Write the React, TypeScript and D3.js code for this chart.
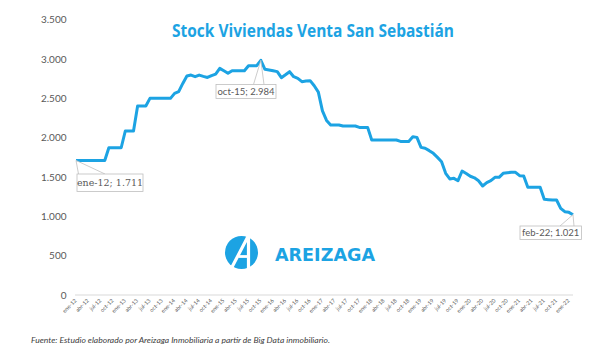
import React from "react";
import * as d3 from "d3";

const monthNames = ["ene", "feb", "mar", "abr", "may", "jun", "jul", "ago", "sep", "oct", "nov", "dic"];
const startYear = 2012;

// Stock de viviendas en venta, mensual ene-12 .. feb-22
const stockValues = [
  1711, 1711, 1711, 1711, 1711, 1711, 1711, 1711, 1872, 1872, 1872, 1872,
  2085, 2085, 2085, 2402, 2402, 2402, 2500, 2500, 2500, 2500, 2500, 2500,
  2563, 2585, 2690, 2784, 2796, 2775, 2796, 2780, 2766, 2790, 2809, 2881,
  2850, 2818, 2852, 2852, 2852, 2852, 2915, 2915, 2915, 2984, 2869, 2860,
  2850, 2840, 2763, 2800, 2839, 2775, 2754, 2712, 2720, 2725, 2660, 2580,
  2340, 2220, 2161, 2161, 2161, 2148, 2148, 2148, 2148, 2131, 2131, 2131,
  1970, 1970, 1970, 1970, 1970, 1970, 1970, 1953, 1953, 1953, 2012, 2004,
  1877, 1866, 1835, 1801, 1750, 1695, 1547, 1475, 1483, 1453, 1576, 1545,
  1510, 1490, 1453, 1386, 1428, 1453, 1496, 1496, 1547, 1555, 1560, 1560,
  1517, 1513, 1369, 1369, 1369, 1369, 1216, 1212, 1208, 1208, 1102, 1059,
  1051, 1021,
];

const yTicks = [0, 500, 1000, 1500, 2000, 2500, 3000, 3500];
const annotatedIndices = [0, 45, 121];

const titleText = "Stock Viviendas Venta San Sebastián";
const sourceText = "Fuente: Estudio elaborado por Areizaga Inmobiliaria a partir de Big Data inmobiliario.";
const logoText = "AREIZAGA";

const BLUE = "#1ca3e3";
const GRAY_TEXT = "#595959";

function monthLabel(i: number) {
  const y = startYear + Math.floor(i / 12);
  return `${monthNames[i % 12]}-${String(y).slice(2)}`;
}

const fmt = (v: number) => {
  const s = String(Math.round(v));
  return s.replace(/\B(?=(\d{3})+(?!\d))/g, ".");
};

export default function App() {
  const W = 616;
  const H = 354;
  const x = d3.scaleLinear().domain([0, stockValues.length - 1]).range([76, 573]);
  const y = d3.scaleLinear().domain([0, 3500]).range([295, 19.7]);

  const line = d3
    .line<number>()
    .x((_, i) => x(i))
    .y((d) => y(d))
    .curve(d3.curveLinear);

  const xTickIdx = d3.range(0, stockValues.length, 3);

  // annotation box layouts (offsets relative to point)
  const boxes: Record<number, { bx: number; by: number; bw: number; bh: number; w1: number; w2: number }> = {
    0: { bx: 77, by: 174, bw: 66, bh: 17.5, w1: 78.5, w2: 105 },
    45: { bx: 216, by: 84.5, bw: 60, bh: 14, w1: 253.5, w2: 264 },
    121: { bx: 520, by: 226, bw: 61.5, bh: 13.5, w1: 560, w2: 574 },
  };

  return (
    <svg
      width={W}
      height={H}
      style={{ position: "absolute", left: 0, top: 0, background: "#fff" }}
      fontFamily="Lato, 'Open Sans', sans-serif"
    >
      <rect x={0} y={0} width={W} height={H} fill="#fff" />
      <text
        x={313}
        y={37}
        textAnchor="middle"
        fill={BLUE}
        fontSize={17}
        fontWeight="bold"
        fontFamily="'Open Sans', Lato, sans-serif"
        textLength={282}
        lengthAdjust="spacingAndGlyphs"
      >
        {titleText}
      </text>

      {/* y axis labels */}
      {yTicks.map((t) => (
        <text key={t} x={66.5} y={y(t)} dy="0.35em" textAnchor="end" fontSize={10} fill={GRAY_TEXT}>
          {fmt(t)}
        </text>
      ))}

      {/* x axis */}
      <line x1={75} x2={573} y1={y(0)} y2={y(0)} stroke="#d9d9d9" strokeWidth={1} />
      {xTickIdx.map((i) => (
        <text
          key={i}
          transform={`translate(${x(i) + 1},${y(0) + 6}) rotate(-45)`}
          textAnchor="end"
          fontSize={5.5}
          fill={GRAY_TEXT}
        >
          {monthLabel(i)}
        </text>
      ))}

      {/* logo */}
      <g>
        <circle cx={241.5} cy={252.5} r={16.5} fill={BLUE} />
        <path d="M231 269 L248.5 235.5 L248.5 270" fill="none" stroke="#fff" strokeWidth={3.2} />
        <path d="M238.5 256.5 L248.5 256.5" fill="none" stroke="#fff" strokeWidth={2.8} />
        <text
          x={275}
          y={260.5}
          fill={BLUE}
          fontSize={18}
          fontWeight="bold"
          fontFamily="'Liberation Sans Narrow', 'DejaVu Sans Condensed', sans-serif"
          textLength={100}
          lengthAdjust="spacingAndGlyphs"
        >
          {logoText}
        </text>
      </g>

      {/* data line */}
      <path d={line(stockValues) || ""} fill="none" stroke={BLUE} strokeWidth={3} strokeLinejoin="round" />

      {/* annotations */}
      {annotatedIndices.map((i) => {
        const b = boxes[i];
        const px = x(i);
        const py = y(stockValues[i]);
        return (
          <g key={i}>
            <path
              d={`M${b.w1},${b.by} L${px},${py} L${b.w2},${b.by}`}
              fill="#fff"
              stroke="#bfbfbf"
              strokeWidth={0.8}
            />
            <rect x={b.bx} y={b.by} width={b.bw} height={b.bh} fill="#fff" stroke="#bfbfbf" strokeWidth={0.8} />
            <text
              x={b.bx + b.bw / 2}
              y={b.by + b.bh / 2}
              dy="0.35em"
              textAnchor="middle"
              fontSize={9.5}
              fill={GRAY_TEXT}
              fontFamily={i === 0 ? "'DejaVu Serif', serif" : "Lato, sans-serif"}
            >
              {`${monthLabel(i)}; ${fmt(stockValues[i])}`}
            </text>
          </g>
        );
      })}

      {/* source */}
      <text x={31} y={343} fontSize={8.5} fontStyle="italic" fill="#404040" textLength={299} lengthAdjust="spacingAndGlyphs">
        {sourceText}
      </text>
    </svg>
  );
}
